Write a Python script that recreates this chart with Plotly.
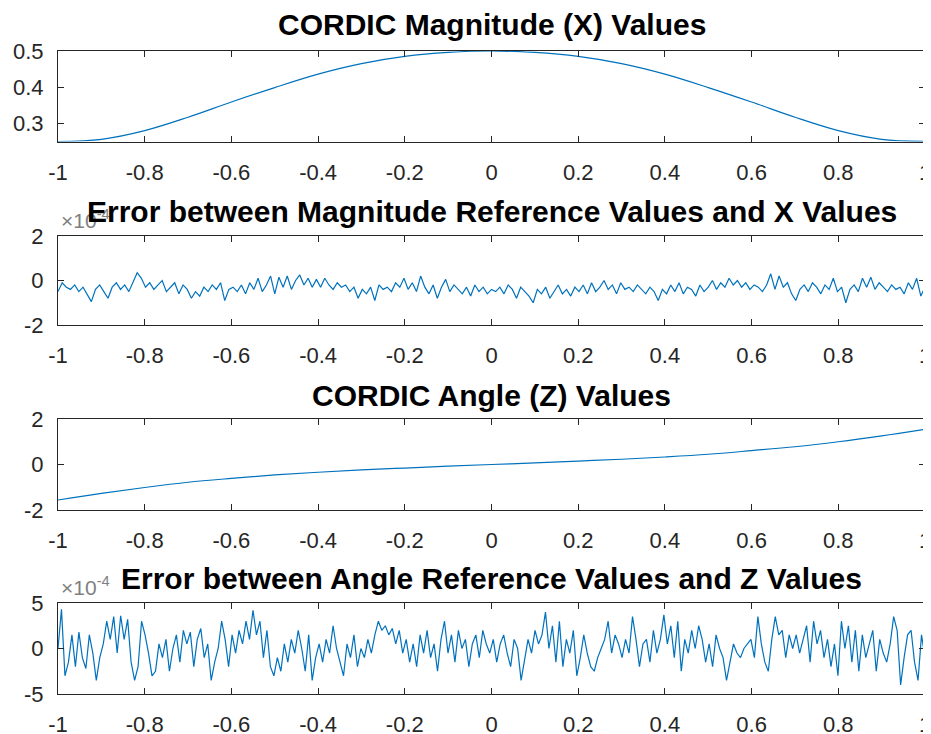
import numpy as np
import plotly.graph_objects as go
from plotly.subplots import make_subplots

# ---------------- data ----------------
mag_x = [-1.0, -0.9, -0.8, -0.7, -0.6, -0.5, -0.4, -0.3, -0.2, -0.1, 0.0,
         0.1, 0.2, 0.3, 0.4, 0.5, 0.6, 0.7, 0.8, 0.9, 1.0]
mag_vals = [0.250, 0.256, 0.280, 0.317, 0.359, 0.399, 0.436, 0.465, 0.485, 0.496, 0.500,
            0.496, 0.485, 0.465, 0.436, 0.399, 0.359, 0.317, 0.280, 0.256, 0.250]

ang_x = [-1.0, -0.9, -0.8, -0.7, -0.6, -0.5, -0.4, -0.3, -0.2, -0.1, 0.0,
         0.1, 0.2, 0.3, 0.4, 0.5, 0.6, 0.7, 0.8, 0.9, 1.0]
ang_vals = [-1.56, -1.27, -1.01, -0.78, -0.61, -0.46, -0.34, -0.24, -0.155, -0.075, 0.0,
            0.07, 0.15, 0.23, 0.33, 0.45, 0.61, 0.78, 1.00, 1.26, 1.55]

# magnitude error, in units of 1e-4
mag_err = [
    -0.5, -0.1, -0.3, -0.4, -0.2, -0.5, -0.3, -0.6, -0.95, -0.4, -0.2, -0.5, -0.8, -0.3, -0.1, -0.4, -0.2, -0.5, -0.1, 0.35, 0.1,
    -0.3, -0.1, -0.4, -0.2, 0.0, -0.5, -0.3, -0.1, -0.6, -0.2, -0.4, -0.8, -0.5, -0.7, -0.3, -0.5, -0.2, -0.4, -0.1, -0.9, -0.4,
    -0.3, -0.5, -0.2, -0.6, -0.1, -0.4, 0.1, -0.5, -0.2, 0.2, -0.6, 0.15, -0.3, 0.2, -0.4, 0.0, 0.25, -0.2, 0.1, -0.3, 0.05,
    -0.3, 0.1, -0.2, -0.4, -0.1, -0.3, -0.2, -0.5, -0.3, -0.8, -0.4, -0.6, -0.3, -0.9, -0.2, -0.4, -0.3, -0.5, -0.1, -0.3, 0.1,
    -0.4, -0.1, -0.5, 0.2, -0.3, -0.6, -0.2, -0.8, -0.3, 0.05, -0.5, -0.2, -0.4, -0.6, -0.3, -0.7, -0.2, -0.5, -0.3, -0.6, -0.4,
    -0.5, -0.3, -0.6, -0.2, -0.4, -0.8, -0.3, -0.5, -0.7, -1.0, -0.4, -0.6, -0.3, -0.8, -0.5, -0.2, -0.6, -0.4, -0.7, -0.3, -0.5,
    -0.2, -0.6, -0.1, -0.5, -0.3, 0.0, -0.4, -0.2, -0.6, -0.1, -0.4, -0.3, -0.5, -0.2, -0.4, -0.6, -0.3, -0.5, -0.9, -0.4, -0.6,
    -0.2, -0.5, -0.1, -0.6, -0.3, -0.4, -0.7, -0.2, -0.5, -0.3, 0.0, -0.4, -0.1, -0.3, 0.1, -0.2, 0.0, -0.3, -0.1, -0.4, -0.2,
    -0.3, -0.5, -0.2, 0.3, -0.4, 0.2, -0.3, -0.1, -0.6, -0.9, -0.4, -0.2, -0.5, -0.1, -0.3, -0.6, -0.2, -0.4, 0.1, -0.5, -0.3,
    -1.0, -0.4, -0.2, -0.5, 0.1, -0.3, 0.15, -0.4, -0.1, -0.3, -0.5, -0.2, -0.4, -0.3, -0.6, -0.1, -0.4, 0.1, -0.7, -0.3,
]

# angle error, in units of 1e-4
ang_err = [
    0.0, 4.3, -3.0, -1.5, 1.5, -2.0, 1.8, -1.0, -2.2, 1.5, -0.5, -3.5, -1.0, 0.5, 3.0, 1.0, 3.5, -0.5, 3.6, 1.0, 3.2, -1.5, -3.5, -2.0, 3.0,
    1.5, -0.5, -3.0, -2.5, 0.5, -1.0, 1.0, -2.5, 0.0, 1.5, -1.5, 2.0, 0.5, 1.8, -2.0, 1.0, 2.2, -1.0, 0.5, -3.5, -1.5, 0.0, 3.0, 1.0, -2.0,
    1.5, -0.5, 2.0, 0.5, 3.0, 1.0, 4.2, 1.5, 3.0, -1.0, 2.0, -2.0, -3.0, -1.0, -2.5, 0.5, -1.5, 1.0, -0.5, 2.0, 0.0, -2.5, 1.5, -3.5, -1.0,
    0.5, -1.5, 1.0, -0.5, 2.5, 0.0, -1.5, -3.0, 0.5, -1.0, 1.5, -2.0, 0.0, -1.0, 1.0, -0.5, 1.5, 3.0, 2.0, 2.5, 1.5, 2.2, 0.5, 2.0, -0.5,
    1.0, -1.5, 0.5, -2.0, 1.5, -0.5, 2.0, -1.0, 0.5, -2.5, 1.0, 3.0, -0.5, 1.5, -1.5, 2.0, 0.0, 1.0, -2.0, 0.5, 1.5, -1.0, 2.0, 0.5, -0.5,
    1.0, -1.5, 0.5, 1.5, -0.5, -2.0, 1.0, 0.0, -3.5, -1.0, 1.0, -0.5, 2.0, 0.5, 1.5, 4.0, 0.0, 2.5, -1.5, 3.0, -2.0, 1.0, -0.5, 2.0, -3.0,
    -1.0, 1.5, -0.5, -2.0, -2.5, -1.0, 0.0, 1.0, 3.0, -0.5, 1.5, 0.5, -1.0, 1.0, -0.5, 3.5, 1.0, -2.0, 0.5, 1.0, -1.5, 2.0, -0.5, 1.0, 3.7,
    0.5, 2.5, -1.0, 3.0, -2.5, 1.0, -0.5, 2.0, 0.0, 2.5, 1.0, -1.5, 0.5, -2.0, 1.5, 0.0, -1.0, -3.5, -1.5, 0.5, -0.5, -1.0, 0.0, 0.5, 1.0,
    -1.0, 3.5, 0.5, -1.5, -2.5, 1.0, 3.5, 1.5, 2.0, -1.0, 1.5, 0.0, 1.5, -0.5, 1.0, 2.5, -1.5, 3.0, 0.5, 2.0, -1.0, 1.0, -2.0, 0.5, -3.0,
    3.0, 0.0, 2.5, -1.5, 2.0, -2.5, 1.5, -1.0, 0.5, 2.0, -2.5, 1.0, -0.5, -1.5, 0.5, 3.5, 2.0, -4.0, -1.0, 1.5, 2.0, -1.5, -3.5, 1.5, -1.0,
]

x_ticks = [-1, -0.8, -0.6, -0.4, -0.2, 0, 0.2, 0.4, 0.6, 0.8, 1]
x_tick_text = ["-1", "-0.8", "-0.6", "-0.4", "-0.2", "0", "0.2", "0.4", "0.6", "0.8", "1"]

titles = ["CORDIC Magnitude (X) Values",
          "Error between Magnitude Reference Values and X Values",
          "CORDIC Angle (Z) Values",
          "Error between Angle Reference Values and Z Values"]

# ---------------- figure ----------------
# the page body has an 8px margin, so the figure is sized/positioned to compensate
OFF = 8
W, H = 931 - OFF, 734 - OFF
FONT = "Liberation Sans, Arial, Helvetica, sans-serif"
LINE = "#0072BD"
AX = "#262626"

fig = make_subplots(rows=4, cols=1)

err_x_mag = np.linspace(-1, 1, len(mag_err))
err_x_ang = np.linspace(-1, 1, len(ang_err))

series = [(mag_x, mag_vals), (err_x_mag, mag_err), (ang_x, ang_vals), (err_x_ang, ang_err)]
for i, (xs, ys) in enumerate(series, start=1):
    fig.add_trace(go.Scatter(x=xs, y=ys, mode="lines",
                             line=dict(color=LINE, width=1.2,
                                       shape="spline" if i in (1, 3) else "linear"),
                             showlegend=False, hoverinfo="skip"), row=i, col=1)


def px_x(v):
    return (v - OFF) / W


def px_y(v):
    return 1 - (v - OFF) / H


x_dom = [px_x(58), px_x(925)]
boxes = [(51, 141.5), (236, 325), (419, 510), (603, 694)]
yranges = [[0.25, 0.5], [-2, 2], [-2, 2], [-5, 5]]
yticks = [[0.3, 0.4, 0.5], [-2, 0, 2], [-2, 0, 2], [-5, 0, 5]]
ytext = [["0.3", "0.4", "0.5"], ["-2", "0", "2"], ["-2", "0", "2"], ["-5", "0", "5"]]
title_y = [25, 211, 395, 578]

common = dict(showline=True, linecolor=AX, linewidth=1, mirror="allticks",
              ticks="inside", ticklen=6, tickcolor=AX, tickwidth=1,
              showgrid=False, zeroline=False, automargin=False,
              ticklabeloverflow="allow",
              tickfont=dict(family=FONT, size=22, color=AX))

for i in range(4):
    top, bot = boxes[i]
    xa = "xaxis" if i == 0 else f"xaxis{i+1}"
    ya = "yaxis" if i == 0 else f"yaxis{i+1}"
    fig.layout[xa].update(domain=x_dom, range=[-1, 1], tickvals=x_ticks, ticktext=x_tick_text,
                          ticklabelstandoff=11, **common)
    fig.layout[ya].update(domain=[px_y(bot), px_y(top)], range=yranges[i],
                          tickvals=yticks[i], ticktext=ytext[i], ticklabelstandoff=9, **common)

annotations = []
for i in (1, 3):
    top, bot = boxes[i]
    annotations.append(dict(text="×10<sup>-4</sup>", x=px_x(59), y=px_y(top - 2),
                            xref="paper", yref="paper", xanchor="left", yanchor="bottom",
                            showarrow=False, font=dict(family=FONT, size=21, color="#808080")))
for i in range(4):
    annotations.append(dict(text="<b>" + titles[i] + "</b>", x=px_x((58 + 925) / 2),
                            y=px_y(title_y[i]), xref="paper", yref="paper",
                            xanchor="center", yanchor="middle", showarrow=False,
                            font=dict(family=FONT, size=30, color="#000000")))

fig.update_layout(template="none", width=W, height=H,
                  margin=dict(l=0, r=0, t=0, b=0, pad=0, autoexpand=False),
                  paper_bgcolor="white", plot_bgcolor="white",
                  annotations=annotations, font=dict(family=FONT))

fig.write_html("out.html")
